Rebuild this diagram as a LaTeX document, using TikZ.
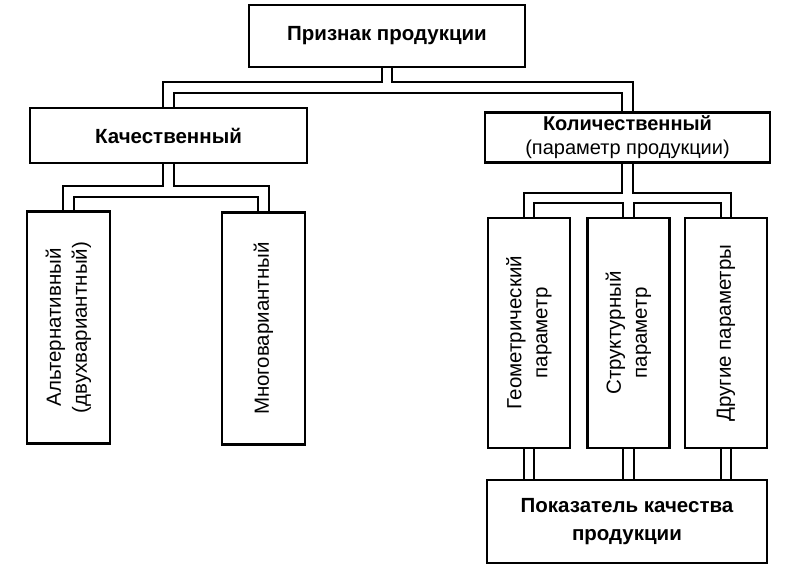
\documentclass[tikz,border=0pt]{standalone}
\usepackage{fontspec}
\setmainfont{Liberation Sans}
\usetikzlibrary{backgrounds}
\tikzset{
  box/.style={draw, line width=2.6pt, fill=white, align=center, inner sep=0pt},
  headbox/.style={box, font=\fontsize{20.5}{28}\selectfont\bfseries},
  tallbox/.style={box, rotate=90, minimum width=232pt, minimum height=83pt,
    font=\fontsize{20.5}{26}\selectfont},
  pipe/.style={double, double distance=8.5pt, line width=2pt}
}

\begin{document}
\begin{tikzpicture}[x=1pt, y=-1pt]
\useasboundingbox (0,0) rectangle (787,572);
\node[headbox, minimum width=276pt, minimum height=62pt] (prizn) at (387,36) {Признак продукции};
\node[headbox, minimum width=277pt, minimum height=55pt] (kach) at (168.5,135.5) {Качественный};
\node[box, minimum width=285pt, minimum height=50pt, font=\fontsize{20}{24}\selectfont] (kol) at (627.5,137.5)
  {\bfseries Количественный\\(параметр продукции)};
\node[tallbox] (alt) at (68.5,327.5) {Альтернативный\\(двухвариантный)};
\node[tallbox] (mnogo) at (263.5,328.5) {Многовариантный};
\node[tallbox, minimum width=230pt, minimum height=82pt] (geo) at (529,333) {Геометрический\\параметр};
\node[tallbox, minimum width=230pt, minimum height=82pt] (strukt) at (628.5,333) {Структурный\\параметр};
\node[tallbox, minimum width=230pt, minimum height=82pt] (drugie) at (726,333) {Другие параметры};
\node[headbox, minimum width=280pt, minimum height=83pt] (pokaz) at (627,521.5) {Показатель качества\\продукции};
\begin{scope}[on background layer]
\draw[pipe] (prizn.south) -- ++(0,19) -| (kach.north)
  (prizn.south) -- ++(0,19) -| (kol.north);
\draw[pipe] (kach.south) -- ++(0,27) -| (alt.east)
  (kach.south) -- ++(0,27) -| (mnogo.east);
\draw[pipe] (kol.south) -- ++(0,34) -| (geo.east)
  (kol.south) -- ++(0,34) -| (strukt.east)
  (kol.south) -- ++(0,34) -| (drugie.east);
\foreach \n in {geo,strukt,drugie}
  \draw[pipe] (\n.west) -- (\n.west |- pokaz.north);
\end{scope}
\end{tikzpicture}
\end{document}
